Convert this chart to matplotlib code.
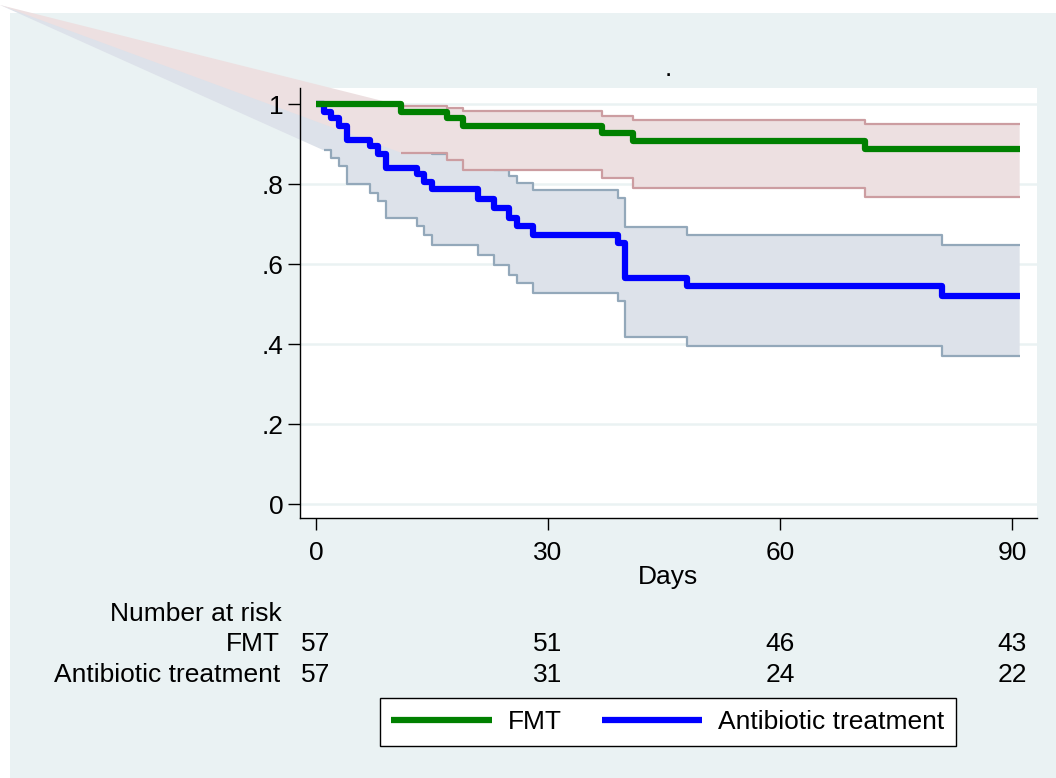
import numpy as np
import matplotlib
matplotlib.use("Agg")
import matplotlib.pyplot as plt
from matplotlib.patches import Polygon, Rectangle
from matplotlib.transforms import blended_transform_factory

plt.rcParams['font.family'] = ['Liberation Sans', 'DejaVu Sans']

# Kaplan-Meier estimates
t_end = 91
fmt_t = [0, 11, 17, 19, 37, 41, 71]
fmt_s = [1.0, 0.982, 0.965, 0.947, 0.928, 0.909, 0.888]
fmt_ci_t = [11, 17, 19, 37, 41, 71]
fmt_lo = [0.879, 0.861, 0.837, 0.815, 0.791, 0.768]
fmt_hi = [0.997, 0.991, 0.983, 0.972, 0.961, 0.950]

abx_t = [0, 1, 2, 3, 4, 7, 8, 9, 13, 14, 15, 21, 23, 25, 26, 28, 39, 40, 48, 81]
abx_s = [1.0, 0.982, 0.965, 0.947, 0.912, 0.895, 0.877, 0.842, 0.825, 0.807,
         0.789, 0.762, 0.741, 0.716, 0.695, 0.674, 0.653, 0.566, 0.545, 0.521]
abx_ci_t = [1, 2, 3, 4, 7, 8, 9, 13, 14, 15, 21, 23, 25, 26, 28, 39, 40, 48, 81]
abx_lo = [0.885, 0.866, 0.845, 0.800, 0.779, 0.758, 0.716, 0.695, 0.672, 0.649,
          0.624, 0.599, 0.574, 0.553, 0.528, 0.507, 0.419, 0.396, 0.371]
abx_hi = [0.998, 0.990, 0.980, 0.960, 0.950, 0.940, 0.920, 0.910, 0.895, 0.875,
          0.857, 0.837, 0.822, 0.804, 0.787, 0.766, 0.693, 0.672, 0.649]

groups = ['FMT', 'Antibiotic treatment']
risk_days = [0, 30, 60, 90]
risk_fmt = [57, 51, 46, 43]
risk_abx = [57, 31, 24, 22]
y_ticks = [0, 0.2, 0.4, 0.6, 0.8, 1.0]
y_ticklabels = ['0', '.2', '.4', '.6', '.8', '1']

W, H = 1056, 778
FS = 19
BG = '#eaf2f3'

fig = plt.figure(figsize=(W / 100, H / 100), dpi=100, facecolor='white')
fig.patches.append(Rectangle((10 / W, 0), 1 - 10 / W, 1 - 13 / H,
                             transform=fig.transFigure, facecolor=BG,
                             edgecolor='none', zorder=-10))

ax = fig.add_axes([300 / W, 1 - 518 / H, (1036.7 - 300) / W, (518 - 88) / H])
ax.set_xlim(-2.07, 93.2)
ax.set_ylim(-0.035, 1.041)

# grid drawn by hand so the axis (tick labels) can stay above the bands
for yt in y_ticks:
    ax.axhline(yt, color=BG, lw=1.8, zorder=0.5)


def steps(t, v):
    xs, ys = [], []
    tt = list(t) + [t_end]
    for i, val in enumerate(v):
        xs += [tt[i], tt[i + 1]]
        ys += [val, val]
    return xs, ys


# odd wedge in the original: the CI areas start from the top-left corner
corner = ax.transData.inverted().transform((0, H - 5))


def band(t, lo, hi, face, edge, z):
    xu, yu = steps(t, hi)
    xl, yl = steps(t, lo)
    pts = [tuple(corner)] + list(zip(xu, yu)) + list(zip(xl[::-1], yl[::-1]))
    ax.add_patch(Polygon(pts, closed=True, facecolor=face, edgecolor='none',
                         clip_on=False, zorder=z))
    ax.plot(xu, yu, color=edge, lw=1.6, zorder=z + 0.05, solid_capstyle='butt')
    ax.plot(xl, yl, color=edge, lw=1.6, zorder=z + 0.05, solid_capstyle='butt')


band(abx_ci_t, abx_lo, abx_hi, '#dde2ea', '#93a8ba', 1.0)
band(fmt_ci_t, fmt_lo, fmt_hi, '#ede0e1', '#cc9da1', 1.2)

x, y = steps(abx_t, abx_s)
ax.plot(x, y, color='#0000ff', lw=4.5, zorder=3, solid_capstyle='butt',
        label=groups[1])
x, y = steps(fmt_t, fmt_s)
ax.plot(x, y, color='#008000', lw=4.5, zorder=3.1, solid_capstyle='butt',
        label=groups[0])

ax.set_yticks(y_ticks)
ax.set_yticklabels(y_ticklabels)
ax.set_xticks(risk_days)
ax.tick_params(axis='both', length=8.6, width=1, labelsize=FS, color='black')
ax.tick_params(axis='y', pad=3.4)
ax.tick_params(axis='x', pad=7.6)
ax.spines['top'].set_visible(False)
ax.spines['right'].set_visible(False)
ax.spines['left'].set_linewidth(1)
ax.spines['bottom'].set_linewidth(1)
ax.set_xlabel('Days', fontsize=FS, labelpad=0.5)

fig.text(668 / W, 1 - 76 / H, '.', ha='center', va='baseline', fontsize=FS)

# number at risk table
tr = blended_transform_factory(ax.transData, fig.transFigure)
fig.text(282 / W, 1 - 621 / H, 'Number at risk', ha='right', va='baseline', fontsize=FS)
for row, (name, vals) in enumerate(zip(groups, [risk_fmt, risk_abx])):
    yb = 1 - (651 + 31 * row) / H
    fig.text(280 / W, yb, name, ha='right', va='baseline', fontsize=FS)
    for d, n in zip(risk_days, vals):
        ax.text(d, yb, str(n), transform=tr, ha='center', va='baseline',
                fontsize=FS, clip_on=False)

handles, labels = ax.get_legend_handles_labels()
leg = fig.legend(handles[::-1], labels[::-1], loc='center', ncol=2,
                 bbox_to_anchor=(668 / W, 1 - 722 / H), fontsize=FS,
                 handlelength=3.8, handletextpad=0.62, columnspacing=1.5,
                 borderpad=0.45, fancybox=False, framealpha=1,
                 edgecolor='black', facecolor='white')
leg.get_frame().set_linewidth(1)

fig.savefig('out.png', dpi=100)
